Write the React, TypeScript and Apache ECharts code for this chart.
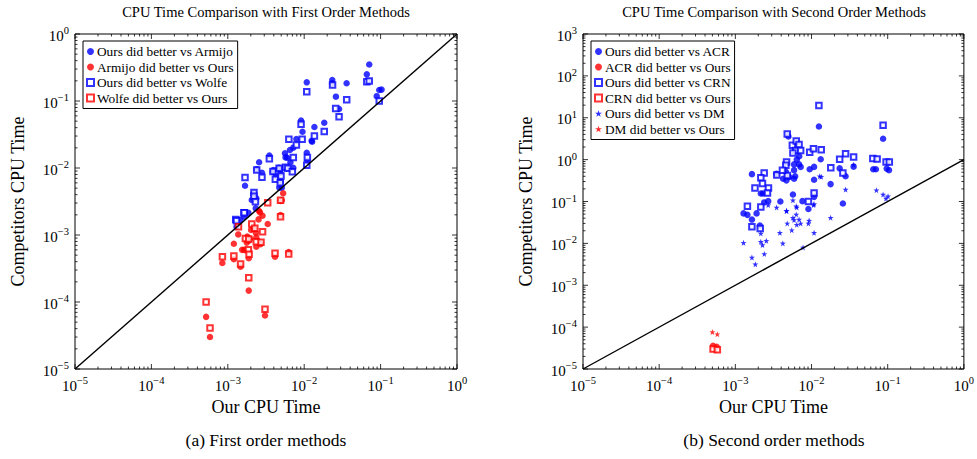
import React, { useEffect, useRef } from "react";
import * as echarts from "echarts";

// ---------- Data (x = Our CPU time, y = competitor CPU time) ----------
const armijoOursBetter: number[][] = [
  [0.071, 0.35], [0.066, 0.25], [0.0108, 0.19], [0.0233, 0.206], [0.0233, 0.184], [0.0359, 0.184],
  [0.026, 0.116], [0.0286, 0.076], [0.089, 0.118], [0.096, 0.146], [0.103, 0.148], [0.0091, 0.051],
  [0.0095, 0.0348], [0.0136, 0.041], [0.0183, 0.0474], [0.0079, 0.0271], [0.0072, 0.0201],
  [0.0065, 0.0186], [0.0056, 0.0166], [0.0057, 0.0144], [0.0035, 0.0153], [0.00257, 0.0122],
  [0.0024, 0.0096], [0.0028, 0.0085], [0.00387, 0.0088], [0.00468, 0.0101], [0.00427, 0.0076],
  [0.0049, 0.0062], [0.00472, 0.0051], [0.006, 0.0142], [0.0066, 0.0122], [0.0072, 0.0101],
  [0.0108, 0.0169], [0.011, 0.0128], [0.0125, 0.0255], [0.0127, 0.0247], [0.00168, 0.00544],
  [0.00218, 0.0042], [0.00236, 0.00353], [0.00206, 0.00333], [0.00232, 0.0025], [0.00186, 0.00215],
  [0.00164, 0.00188], [0.00145, 0.00168], [0.0013, 0.00133], [0.0059, 0.0099], [0.0046, 0.0099],
  [0.0049, 0.0085], [0.00394, 0.0093], [0.0051, 0.0051]
];
const armijoTheirsBetter: number[][] = [
  [0.0049, 0.00322], [0.0049, 0.00199], [0.00333, 0.00146], [0.00264, 0.00218], [0.00253, 0.00171],
  [0.00285, 0.00194], [0.00202, 0.00119], [0.00233, 0.00108], [0.00236, 0.00092], [0.00236, 0.00067],
  [0.00268, 0.00073], [0.00137, 0.00102], [0.0012, 0.00074], [0.00177, 0.00077], [0.00188, 0.00082],
  [0.00154, 0.0006], [0.00164, 0.0006], [0.00188, 0.00045], [0.0012, 0.000434], [0.000848, 0.000382],
  [0.00147, 0.000337], [0.00188, 0.000148], [0.00415, 0.000475], [0.00627, 0.000557],
  [0.00307, 0.000063], [0.00052, 0.00006], [0.000585, 0.00003], [0.0053, 0.0042], [0.0051, 0.0033],
  [0.00255, 0.0023], [0.0022, 0.00125], [0.0018, 0.00095], [0.00195, 0.00088]
];
const wolfeOursBetter: number[][] = [
  [0.066, 0.194], [0.071, 0.199], [0.0108, 0.138], [0.0235, 0.173], [0.036, 0.104], [0.0258, 0.077],
  [0.0286, 0.058], [0.096, 0.1], [0.0091, 0.045], [0.0136, 0.03], [0.0183, 0.035], [0.0063, 0.0268],
  [0.0094, 0.0268], [0.0079, 0.022], [0.0072, 0.0143], [0.011, 0.0143], [0.0108, 0.011],
  [0.0035, 0.0137], [0.00239, 0.0093], [0.0028, 0.0073], [0.00168, 0.0072], [0.00419, 0.00678],
  [0.00497, 0.0076], [0.00486, 0.006], [0.0057, 0.0103], [0.0061, 0.0099], [0.007, 0.0088],
  [0.0022, 0.0043], [0.0022, 0.0038], [0.0023, 0.00314], [0.00163, 0.00215], [0.00127, 0.00171],
  [0.0013, 0.00163], [0.00164, 0.00215], [0.0039, 0.0089], [0.0047, 0.0099]
];
const wolfeTheirsBetter: number[][] = [
  [0.00333, 0.00303], [0.0049, 0.00188], [0.00206, 0.00146], [0.00226, 0.00126], [0.00285, 0.00112],
  [0.0017, 0.00089], [0.00188, 0.00087], [0.00236, 0.00079], [0.00272, 0.00078], [0.00186, 0.0006],
  [0.0019, 0.000515], [0.00085, 0.000475], [0.0012, 0.000486], [0.00147, 0.00037], [0.00415, 0.000533],
  [0.00627, 0.00052], [0.00188, 0.00023], [0.00307, 0.000078], [0.00052, 0.0001], [0.000585, 0.000041],
  [0.00138, 0.00133], [0.0049, 0.0033]
];

const acrOursBetter: number[][] = [
  [0.0125, 6.2], [0.087, 3.16], [0.00497, 3.59], [0.0132, 1.02], [0.0064, 1.0], [0.0059, 0.77],
  [0.00686, 0.77], [0.0059, 0.56], [0.0046, 0.51], [0.0061, 0.4], [0.0051, 0.385], [0.00424, 0.35],
  [0.00468, 0.32], [0.0059, 0.35], [0.0072, 0.67], [0.00946, 0.59], [0.0108, 0.67], [0.00346, 0.46],
  [0.00165, 0.45], [0.0108, 0.33], [0.0178, 0.26], [0.0234, 0.62], [0.028, 0.4], [0.0357, 0.68],
  [0.0646, 0.59], [0.07, 0.59], [0.097, 0.61], [0.104, 0.56], [0.0258, 0.0895], [0.0057, 0.147],
  [0.0108, 0.129], [0.0091, 0.066], [0.0076, 0.102], [0.0039, 0.1], [0.0027, 0.102], [0.00239, 0.095],
  [0.00216, 0.155], [0.0023, 0.155], [0.00128, 0.052], [0.00144, 0.048], [0.00165, 0.037],
  [0.0019, 0.052], [0.0021, 0.0265], [0.0069, 1.2]
];
const crnOursBetter: number[][] = [
  [0.0125, 19.6], [0.087, 6.6], [0.0048, 4.07], [0.0056, 2.19], [0.0063, 2.77], [0.00686, 2.31],
  [0.0062, 1.66], [0.0072, 1.66], [0.0057, 1.43], [0.00946, 1.49], [0.0106, 1.83], [0.0134, 1.73],
  [0.028, 1.39], [0.0357, 1.15], [0.0234, 1.02], [0.0638, 1.07], [0.0726, 1.03], [0.0953, 0.877],
  [0.105, 0.877], [0.0179, 0.64], [0.0108, 0.16], [0.0258, 0.48], [0.0047, 0.88], [0.0046, 0.73],
  [0.00239, 0.48], [0.00216, 0.37], [0.00227, 0.27], [0.00181, 0.211], [0.00272, 0.211],
  [0.00264, 0.16], [0.00144, 0.077], [0.00216, 0.074], [0.0091, 0.1], [0.0035, 0.43],
  [0.00482, 0.42], [0.00415, 0.56], [0.00165, 0.0248], [0.00212, 0.0228]
];
const dmOursBetter: number[][] = [
  [0.0128, 0.40], [0.0134, 0.39], [0.028, 0.193], [0.0711, 0.186], [0.087, 0.147], [0.101, 0.134],
  [0.095, 0.118], [0.0357, 0.75], [0.00348, 0.072], [0.0047, 0.06], [0.0064, 0.072], [0.0057, 0.107],
  [0.0106, 0.082], [0.0027, 0.082], [0.00128, 0.0103], [0.00165, 0.0046], [0.00183, 0.00316],
  [0.00216, 0.0173], [0.00216, 0.0109], [0.00227, 0.0091], [0.00255, 0.0115], [0.0024, 0.0056],
  [0.00384, 0.0179], [0.0042, 0.01], [0.0047, 0.059], [0.0048, 0.03], [0.0055, 0.0207],
  [0.0057, 0.041], [0.0063, 0.049], [0.0059, 0.036], [0.00686, 0.037], [0.0072, 0.03],
  [0.0063, 0.077], [0.0093, 0.035], [0.0091, 0.03], [0.0108, 0.0179], [0.0108, 0.087],
  [0.0178, 0.041], [0.00774, 0.008], [0.0064, 0.028]
];
const acrTheirsBetter: number[][] = [[0.00051, 3.6e-5], [0.00057, 3.4e-5]];
const crnTheirsBetter: number[][] = [[0.00051, 3.0e-5], [0.00058, 2.9e-5]];
const dmTheirsBetter: number[][] = [[0.0005, 7.6e-5], [0.00058, 6.8e-5]];

const diagonal: number[][] = [[1e-5, 1e-5], [1, 1]];

const leftNames = [
  "Ours did better vs Armijo", "Armijo did better vs Ours",
  "Ours did better vs Wolfe", "Wolfe did better vs Ours"
];
const rightNames = [
  "Ours did better vs ACR", "ACR did better vs Ours",
  "Ours did better vs CRN", "CRN did better vs Ours",
  "Ours did better vs DM", "DM did better vs Ours"
];
const titles = ["CPU Time Comparison with First Order Methods", "CPU Time Comparison with Second Order Methods"];
const captions = ["(a) First order methods", "(b) Second order methods"];
const xAxisName = "Our CPU Time";
const yAxisName = "Competitors CPU Time";
const leftDecades = { x: [-5, 0], y: [-5, 0] };
const rightDecades = { x: [-5, 0], y: [-5, 3] };

// ---------- Styles ----------
const FONT = "'Liberation Serif', 'Times New Roman', serif";
const BLUE = "#0000ff";
const RED = "#ff0000";
const STAR = "path://M0,-10 L2.35,-3.24 L9.51,-3.09 L3.8,1.24 L5.88,8.09 L0,4 L-5.88,8.09 L-3.8,1.24 L-9.51,-3.09 L-2.35,-3.24 Z";

const GRIDS = [
  { left: 75, top: 34, width: 382, height: 335 },
  { left: 583, top: 34, width: 382, height: 335 }
];

function expLabel(v: number) {
  const e = Math.round(Math.log10(v));
  const s = e < 0 ? "\u2212" + -e : String(e);
  return `{b|10}{s|${s}}`;
}
const labelRich = {
  b: { fontFamily: FONT, fontSize: 15, color: "#000", lineHeight: 18, verticalAlign: "bottom" },
  s: { fontFamily: FONT, fontSize: 10.5, color: "#000", lineHeight: 10, verticalAlign: "top" }
};

function logAxis(gridIndex: number, dec: number[], isY: boolean) {
  return {
    type: "log",
    logBase: 10,
    gridIndex,
    min: Math.pow(10, dec[0]),
    max: Math.pow(10, dec[1]),
    splitNumber: dec[1] - dec[0],
    name: isY ? yAxisName : xAxisName,
    nameLocation: "middle",
    nameGap: isY ? 48 : 27,
    nameRotate: isY ? 90 : 0,
    nameTextStyle: { fontFamily: FONT, fontSize: 18, color: "#000" },
    axisLine: { show: false },
    axisTick: { show: false },
    splitLine: { show: false },
    minorTick: { show: false },
    axisLabel: { formatter: expLabel, rich: labelRich, margin: isY ? 6 : 6 }
  };
}

function tickSeries(idx: number, dec: { x: number[]; y: number[] }) {
  return {
    type: "custom",
    xAxisIndex: idx,
    yAxisIndex: idx,
    silent: true,
    clip: false,
    z: 5,
    data: [[1e-3, 1e-3]],
    renderItem: (params: any, api: any) => {
      const cs = params.coordSys;
      const children: any[] = [];
      const st = { stroke: "#000", lineWidth: 0.8 };
      for (let e = dec.x[0]; e <= dec.x[1]; e++) {
        for (let k = 1; k <= 9; k++) {
          if (e === dec.x[1] && k > 1) break;
          const len = k === 1 ? 5 : 2.5;
          const px = api.coord([k * Math.pow(10, e), Math.pow(10, dec.y[0])])[0];
          children.push({ type: "line", shape: { x1: px, y1: cs.y + cs.height, x2: px, y2: cs.y + cs.height - len }, style: st });
          children.push({ type: "line", shape: { x1: px, y1: cs.y, x2: px, y2: cs.y + len }, style: st });
        }
      }
      for (let e = dec.y[0]; e <= dec.y[1]; e++) {
        for (let k = 1; k <= 9; k++) {
          if (e === dec.y[1] && k > 1) break;
          const len = k === 1 ? 5 : 2.5;
          const py = api.coord([Math.pow(10, dec.x[0]), k * Math.pow(10, e)])[1];
          children.push({ type: "line", shape: { x1: cs.x, y1: py, x2: cs.x + len, y2: py }, style: st });
          children.push({ type: "line", shape: { x1: cs.x + cs.width, y1: py, x2: cs.x + cs.width - len, y2: py }, style: st });
        }
      }
      return { type: "group", children };
    }
  };
}

function scatter(name: string, data: number[][], idx: number, symbol: string, color: string, size: number) {
  const empty = symbol === "emptyRect";
  return {
    type: "scatter",
    name,
    data,
    xAxisIndex: idx,
    yAxisIndex: idx,
    symbol,
    symbolSize: size,
    z: 3,
    itemStyle: empty ? { color, borderColor: color, borderWidth: 0.9 } : { color },
    emphasis: { disabled: true }
  };
}

function diagLine(idx: number) {
  return {
    type: "line",
    data: diagonal,
    xAxisIndex: idx,
    yAxisIndex: idx,
    symbol: "none",
    z: 4,
    lineStyle: { color: "#000", width: 1.4 },
    silent: true
  };
}

function legend(names: string[], left: number) {
  return {
    data: names,
    left,
    top: 41,
    orient: "vertical",
    itemWidth: 7,
    itemHeight: 7,
    itemGap: 2.5,
    padding: [4, 4, 4, 3],
    borderColor: "#000",
    borderWidth: 1,
    backgroundColor: "#fff",
    selectedMode: false,
    textStyle: { fontFamily: FONT, fontSize: 13.3, lineHeight: 12, color: "#000", padding: [0, 0, 0, -2] }
  };
}

export default function App() {
  const ref = useRef<HTMLDivElement>(null);
  useEffect(() => {
    if (!ref.current) return;
    const chart = echarts.init(ref.current, undefined, { renderer: "svg" });
    const textEl = (text: string, x: number, y: number, size: number) => ({
      type: "text",
      x,
      y,
      style: { text, fill: "#000", font: `${size}px ${FONT}`, textAlign: "center", textVerticalAlign: "middle" }
    });
    chart.setOption({
      animation: false,
      backgroundColor: "#fff",
      grid: GRIDS.map((g) => ({ ...g, show: true, borderColor: "#000", borderWidth: 1, backgroundColor: "transparent" })),
      xAxis: [logAxis(0, leftDecades.x, false), logAxis(1, rightDecades.x, false)],
      yAxis: [logAxis(0, leftDecades.y, true), logAxis(1, rightDecades.y, true)],
      legend: [legend(leftNames, 83), legend(rightNames, 591)],
      series: [
        scatter(leftNames[0], armijoOursBetter, 0, "circle", BLUE, 6.5),
        scatter(leftNames[1], armijoTheirsBetter, 0, "circle", RED, 6.5),
        scatter(leftNames[2], wolfeOursBetter, 0, "emptyRect", BLUE, 5.5),
        scatter(leftNames[3], wolfeTheirsBetter, 0, "emptyRect", RED, 5.5),
        diagLine(0),
        tickSeries(0, leftDecades),
        scatter(rightNames[0], acrOursBetter, 1, "circle", BLUE, 6.5),
        scatter(rightNames[1], acrTheirsBetter, 1, "circle", RED, 6.5),
        scatter(rightNames[2], crnOursBetter, 1, "emptyRect", BLUE, 5.5),
        scatter(rightNames[3], crnTheirsBetter, 1, "emptyRect", RED, 5.5),
        scatter(rightNames[4], dmOursBetter, 1, STAR, BLUE, 6),
        scatter(rightNames[5], dmTheirsBetter, 1, STAR, RED, 6),
        diagLine(1),
        tickSeries(1, rightDecades)
      ],
      graphic: [
        textEl(titles[0], 266, 12, 14.5),
        textEl(titles[1], 774, 12, 14.5),
        textEl(captions[0], 266, 440, 17.5),
        textEl(captions[1], 774, 440, 17.5)
      ]
    });
    return () => chart.dispose();
  }, []);
  return <div ref={ref} style={{ position: "fixed", left: 0, top: 0, width: 977, height: 459, background: "#fff" }} />;
}
